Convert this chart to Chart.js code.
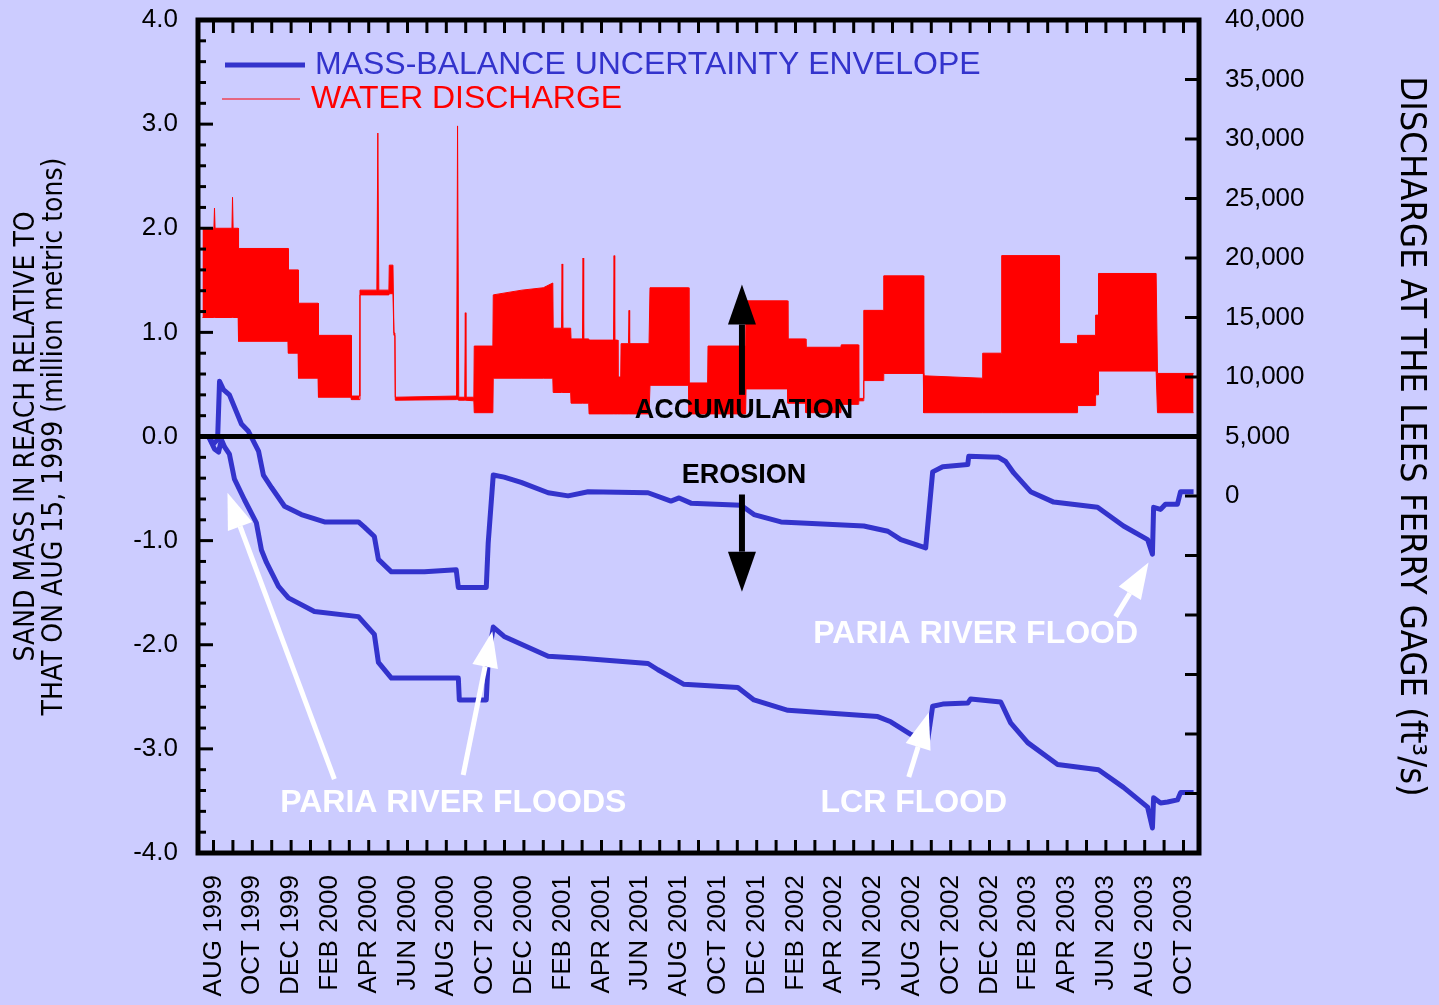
<!DOCTYPE html>
<html>
<head>
<meta charset="utf-8">
<script src="https://cdn.jsdelivr.net/npm/chart.js@4.4.1/dist/chart.umd.min.js"></script>
<style>
  html, body { margin: 0; padding: 0; background: #ccccff; }
</style>
</head>
<body>
<canvas id="sandChart" width="1439" height="1005"></canvas>
<script>
// x values are months counted from the start of AUG 1999
const monthLabels = ['AUG 1999', 'OCT 1999', 'DEC 1999', 'FEB 2000', 'APR 2000', 'JUN 2000', 'AUG 2000',
    'OCT 2000', 'DEC 2000', 'FEB 2001', 'APR 2001', 'JUN 2001', 'AUG 2001', 'OCT 2001', 'DEC 2001',
    'FEB 2002', 'APR 2002', 'JUN 2002', 'AUG 2002', 'OCT 2002', 'DEC 2002', 'FEB 2003', 'APR 2003',
    'JUN 2003', 'AUG 2003', 'OCT 2003']

// mass-balance uncertainty envelope (million metric tons)
const upperMonths = [-0.26, 0.00, 0.21, 0.31, 0.51, 0.82, 1.44, 1.80, 2.32, 2.57, 2.99, 3.66, 4.53, 5.72, 7.47,
    7.78, 8.29, 8.50, 9.17, 10.87, 12.51, 12.62, 14.06, 14.16, 14.42, 14.98, 15.86, 17.25, 18.28, 19.31,
    22.40, 23.58, 24.00, 24.61, 27.19, 27.86, 29.25, 33.52, 34.76, 35.43, 36.71, 37.07, 37.59, 38.88,
    38.93, 40.47, 40.83, 41.25, 42.12, 43.31, 45.57, 46.91, 48.15, 48.40, 48.46, 48.82, 49.07, 49.69,
    49.85, 50.52]
const upperSand = [0.00, -0.07, -0.03, 0.53, 0.45, 0.40, 0.12, 0.05, -0.14, -0.37, -0.49, -0.67, -0.75, -0.82, -0.82,
    -0.87, -0.96, -1.18, -1.30, -1.30, -1.28, -1.45, -1.45, -1.02, -0.37, -0.39, -0.44, -0.54, -0.57, -0.53,
    -0.54, -0.62, -0.59, -0.64, -0.66, -0.75, -0.82, -0.86, -0.91, -0.99, -1.07, -0.34, -0.29, -0.27,
    -0.19, -0.20, -0.24, -0.35, -0.53, -0.63, -0.68, -0.86, -0.99, -1.13, -0.68, -0.70, -0.65, -0.65,
    -0.53, -0.53]
const lowerMonths = [-0.26, 0.05, 0.26, 0.41, 0.57, 0.82, 1.08, 1.60, 2.21, 2.47, 2.73, 3.35, 3.86, 5.20, 7.47,
    8.29, 8.50, 9.17, 12.62, 12.67, 14.06, 14.16, 14.42, 14.98, 17.25, 18.95, 22.40, 22.91, 24.25, 27.03,
    27.86, 29.61, 34.24, 34.91, 35.94, 36.82, 37.07, 37.59, 38.88, 39.03, 40.58, 41.09, 41.97, 43.51,
    45.62, 46.91, 48.15, 48.40, 48.46, 48.82, 49.18, 49.69, 49.85, 50.52]
const lowerSand = [0.00, -0.12, -0.15, -0.03, -0.10, -0.17, -0.41, -0.61, -0.83, -1.09, -1.21, -1.44, -1.55, -1.68, -1.73,
    -1.90, -2.17, -2.32, -2.32, -2.53, -2.53, -2.14, -1.83, -1.92, -2.11, -2.13, -2.18, -2.24, -2.38, -2.41,
    -2.53, -2.63, -2.69, -2.74, -2.86, -2.91, -2.59, -2.57, -2.56, -2.52, -2.55, -2.75, -2.94, -3.15,
    -3.20, -3.37, -3.56, -3.76, -3.47, -3.52, -3.51, -3.49, -3.42, -3.42]

// water discharge at Lees Ferry (ft3/s): daily high and low of the fluctuating flow
const dischargeMonths = [-0.57, 0.02, 0.05, 0.08, 0.95, 0.98, 1.01, 1.27, 1.29, 3.84, 3.86, 4.36, 4.38, 5.39,
    5.41, 7.09, 7.11, 7.50, 7.55, 8.42, 8.47, 8.52, 9.04, 9.06, 9.25, 9.30, 9.35, 9.37, 12.53, 12.58, 12.64,
    12.95, 12.98, 13.01, 13.42, 13.44, 14.40, 14.42, 15.90, 17.00, 17.49, 17.51, 17.94, 17.97, 18.00, 18.41,
    18.43, 19.02, 19.05, 19.08, 19.34, 19.36, 20.62, 20.65, 20.68, 20.83, 20.85, 20.99, 21.01, 21.39, 21.42,
    21.45, 22.45, 22.50, 24.49, 24.51, 25.47, 25.49, 27.43, 27.45, 29.59, 29.61, 30.52, 30.54, 32.34, 32.36,
    33.24, 33.26, 33.50, 33.52, 34.53, 34.55, 36.59, 36.61, 39.63, 39.65, 40.61, 40.63, 43.59, 43.61, 44.52,
    44.54, 45.45, 45.47, 45.60, 45.62, 48.59, 48.66, 50.52]
const dischargeHigh = [22500, 22500, 24200, 22500, 22500, 25100, 22500, 22500, 20800, 20800, 19000, 19000, 16200, 16200,
    13500, 13500, 8400, 8400, 17300, 17300, 30500, 17300, 17300, 19400, 19400, 13700, 13700, 8300, 8400, 31100, 8300,
    8300, 15400, 8300, 8300, 12600, 12600, 16900, 17300, 17500, 17900, 14100, 14100, 19500, 14100, 14100,
    13200, 13200, 20000, 13200, 13200, 13100, 13100, 20200, 13100, 13100, 10000, 10000, 12800, 12800, 15600,
    12800, 12800, 17500, 17500, 9500, 9500, 12600, 12600, 16400, 16400, 13200, 13200, 12500, 12500, 12700,
    12700, 8200, 8200, 15600, 15600, 18500, 18500, 10100, 9900, 12000, 12000, 20200, 20200, 12800, 12800,
    13500, 13500, 15200, 15200, 18700, 18700, 10300, 10300]
const dischargeLow = [15000, 15000, 15000, 15000, 15000, 15000, 15000, 15000, 13000, 13000, 12000, 12000, 9900, 9900,
    8300, 8300, 8100, 8100, 16900, 16900, 16900, 16900, 16900, 17000, 17000, 13500, 13500, 8050, 8100, 8100, 8050,
    8050, 8050, 8050, 8000, 7000, 7000, 9900, 9900, 9900, 9900, 8700, 8700, 8700, 8700, 8700,
    7800, 7800, 7800, 7800, 7800, 6900, 6900, 6900, 6900, 6900, 6900, 6900, 6900, 6900, 6900,
    6900, 6900, 9300, 9300, 6900, 6900, 6900, 6900, 9000, 9000, 7800, 7800, 7000, 7000, 7700,
    7700, 8000, 8000, 9700, 9700, 10300, 10300, 7000, 7000, 7000, 7000, 7000, 7000, 7000, 7000,
    7600, 7600, 8500, 8500, 10500, 10500, 7000, 7000]

const BLUE = '#3333cc'
const RED = '#ff0000'
const SANS = '"Liberation Sans", Arial, sans-serif'
const NARROW = '"Liberation Sans Narrow", "DejaVu Sans Condensed", sans-serif'

const toPoints = (xs, ys) => xs.map((x, i) => ({ x: x, y: ys[i] }))

// annotation anchors in data units: [month, sand]
const notes = [
    { text: 'ACCUMULATION', at: [27.34, 0.25], color: '#000', size: 27 },
    { text: 'EROSION', at: [27.34, -0.375], color: '#000', size: 27 },
    { text: 'PARIA RIVER FLOODS', at: [12.36, -3.52], color: '#fff', size: 32 },
    { text: 'LCR FLOOD', at: [36.1, -3.52], color: '#fff', size: 32 },
    { text: 'PARIA RIVER FLOOD', at: [39.29, -1.90], color: '#fff', size: 32 }
]
const pointers = [
    { from: [27.24, 0.40], to: [27.24, 1.46], color: '#000', width: 6, head: 40, half: 14 },
    { from: [27.24, -0.557], to: [27.24, -1.49], color: '#000', width: 6, head: 40, half: 14 },
    { from: [6.23, -3.29], to: [0.72, -0.54], color: '#fff', width: 5, head: 36, half: 13 },
    { from: [12.87, -3.25], to: [14.37, -1.87], color: '#fff', width: 5, head: 36, half: 13 },
    { from: [35.84, -3.27], to: [36.87, -2.65], color: '#fff', width: 5, head: 36, half: 13 },
    { from: [46.5, -1.73], to: [48.2, -1.21], color: '#fff', width: 5, head: 36, half: 13 }
]

function drawArrow(ctx, x0, y0, x1, y1, p) {
    const ang = Math.atan2(y1 - y0, x1 - x0)
    const bx = x1 - p.head * Math.cos(ang)
    const by = y1 - p.head * Math.sin(ang)
    ctx.strokeStyle = p.color
    ctx.fillStyle = p.color
    ctx.lineWidth = p.width
    ctx.lineCap = 'butt'
    ctx.beginPath()
    ctx.moveTo(x0, y0)
    ctx.lineTo(bx, by)
    ctx.stroke()
    ctx.beginPath()
    ctx.moveTo(x1, y1)
    ctx.lineTo(bx + p.half * Math.sin(ang), by - p.half * Math.cos(ang))
    ctx.lineTo(bx - p.half * Math.sin(ang), by + p.half * Math.cos(ang))
    ctx.closePath()
    ctx.fill()
}

const frameAndNotes = {
    id: 'frameAndNotes',
    afterDatasetsDraw(chart) {
        const { ctx, chartArea: a, scales } = chart
        const { x, y, y2 } = scales
        const seg = (x0, y0, x1, y1) => { ctx.beginPath(); ctx.moveTo(x0, y0); ctx.lineTo(x1, y1); ctx.stroke() }
        ctx.save()
        ctx.strokeStyle = '#000'

        ctx.lineWidth = 5
        const zero = y.getPixelForValue(0)
        seg(a.left, zero, a.right, zero)

        // inward tick marks
        ctx.lineWidth = 3
        x.ticks.forEach(t => {
            if (!Number.isInteger(t.value)) return
            const px = x.getPixelForValue(t.value)
            seg(px, a.bottom, px, a.bottom - 13)
            seg(px, a.top, px, a.top + 13)
        })
        y.ticks.forEach(t => {
            const major = Math.abs(t.value - Math.round(t.value)) < 1e-6
            const py = y.getPixelForValue(t.value)
            seg(a.left, py, a.left + (major ? 15 : 8), py)
        })
        y2.ticks.forEach(t => {
            const py = y2.getPixelForValue(t.value)
            seg(a.right, py, a.right - 14, py)
        })

        ctx.lineWidth = 5
        ctx.strokeRect(a.left, a.top, a.right - a.left, a.bottom - a.top)

        // legend
        ctx.textAlign = 'left'
        ctx.textBaseline = 'middle'
        ctx.font = '32px ' + SANS
        ctx.strokeStyle = BLUE
        ctx.lineWidth = 5
        seg(a.left + 27, a.top + 45, a.left + 107, a.top + 45)
        ctx.fillStyle = BLUE
        ctx.fillText('MASS-BALANCE UNCERTAINTY ENVELOPE', a.left + 117, a.top + 45)
        ctx.strokeStyle = RED
        ctx.lineWidth = 1
        seg(a.left + 24, a.top + 79, a.left + 102, a.top + 79)
        ctx.fillStyle = RED
        ctx.fillText('WATER DISCHARGE', a.left + 113, a.top + 79)

        pointers.forEach(p => drawArrow(ctx,
            x.getPixelForValue(p.from[0]), y.getPixelForValue(p.from[1]),
            x.getPixelForValue(p.to[0]), y.getPixelForValue(p.to[1]), p))

        ctx.textAlign = 'center'
        notes.forEach(n => {
            ctx.font = 'bold ' + n.size + 'px ' + SANS
            ctx.fillStyle = n.color
            ctx.fillText(n.text, x.getPixelForValue(n.at[0]), y.getPixelForValue(n.at[1]))
        })
        ctx.restore()
    }
}

// fixed axis boxes so the plot frame lands where the original has it
const fixBox = size => s => {
    if (s.isHorizontal()) s.height = size
    else s.width = size
    s.paddingTop = 0
    s.paddingBottom = 0
}

const config = {
    type: 'line',
    data: {
        datasets: [
            {
                label: 'MASS-BALANCE UNCERTAINTY ENVELOPE',
                data: toPoints(upperMonths, upperSand),
                yAxisID: 'y', borderColor: BLUE, borderWidth: 5, order: 0
            },
            {
                label: 'lower envelope',
                data: toPoints(lowerMonths, lowerSand),
                yAxisID: 'y', borderColor: BLUE, borderWidth: 5, order: 0
            },
            {
                label: 'WATER DISCHARGE',
                data: toPoints(dischargeMonths, dischargeHigh),
                yAxisID: 'y2', borderColor: RED, backgroundColor: RED, borderWidth: 1, fill: '+1', order: 1
            },
            {
                label: 'discharge low',
                data: toPoints(dischargeMonths, dischargeLow),
                yAxisID: 'y2', borderColor: RED, borderWidth: 1, fill: false, order: 1
            }
        ]
    },
    options: {
        responsive: false,
        animation: false,
        devicePixelRatio: 1,
        layout: { padding: { top: 20, left: 0, right: 0, bottom: 0 } },
        elements: { point: { radius: 0 }, line: { tension: 0, borderJoinStyle: 'round' } },
        plugins: { legend: { display: false }, tooltip: { enabled: false } },
        scales: {
            x: {
                type: 'linear', position: 'bottom', min: -0.8, max: 50.8,
                grid: { display: false, drawTicks: false },
                border: { display: false },
                ticks: {
                    stepSize: 1, autoSkip: false, includeBounds: false,
                    minRotation: 90, maxRotation: 90, padding: 22, color: '#000',
                    font: { family: SANS, size: 26 },
                    callback: v => (Number.isInteger(v) && v % 2 === 0 && v >= 0 && v <= 50) ? monthLabels[v / 2] : ''
                },
                afterFit: fixBox(152)
            },
            y: {
                type: 'linear', position: 'left', min: -4, max: 4,
                grid: { display: false, drawTicks: false },
                border: { display: false },
                ticks: {
                    stepSize: 0.2, autoSkip: false, padding: 20, color: '#000',
                    font: { family: SANS, size: 26 },
                    callback: v => Math.abs(v - Math.round(v)) < 1e-6 ? Math.round(v).toFixed(1) : ''
                },
                title: {
                    display: true, color: '#000',
                    text: ['SAND MASS IN REACH RELATIVE TO', 'THAT ON AUG 15, 1999 (million metric tons)'],
                    font: { family: NARROW, size: 28, lineHeight: 1.0 },
                    padding: { top: 13, bottom: 0 }
                },
                afterFit: fixBox(198)
            },
            y2: {
                type: 'linear', position: 'right', min: -30000, max: 40000,
                grid: { display: false, drawTicks: false },
                border: { display: false },
                ticks: {
                    stepSize: 5000, autoSkip: false, padding: 26, color: '#000',
                    font: { family: SANS, size: 26 },
                    callback: v => v >= 0 ? v.toLocaleString('en-US') : ''
                },
                title: {
                    display: true, color: '#000',
                    text: 'DISCHARGE AT THE LEES FERRY GAGE (ft\u00b3/s)',
                    font: { family: NARROW, size: 36, lineHeight: 1.2 },
                    padding: { top: 7, bottom: 0 }
                },
                afterFit: fixBox(240)
            }
        }
    },
    plugins: [frameAndNotes]
}

const sandChart = new Chart(document.getElementById('sandChart').getContext('2d'), config)
</script>
</body>
</html>
